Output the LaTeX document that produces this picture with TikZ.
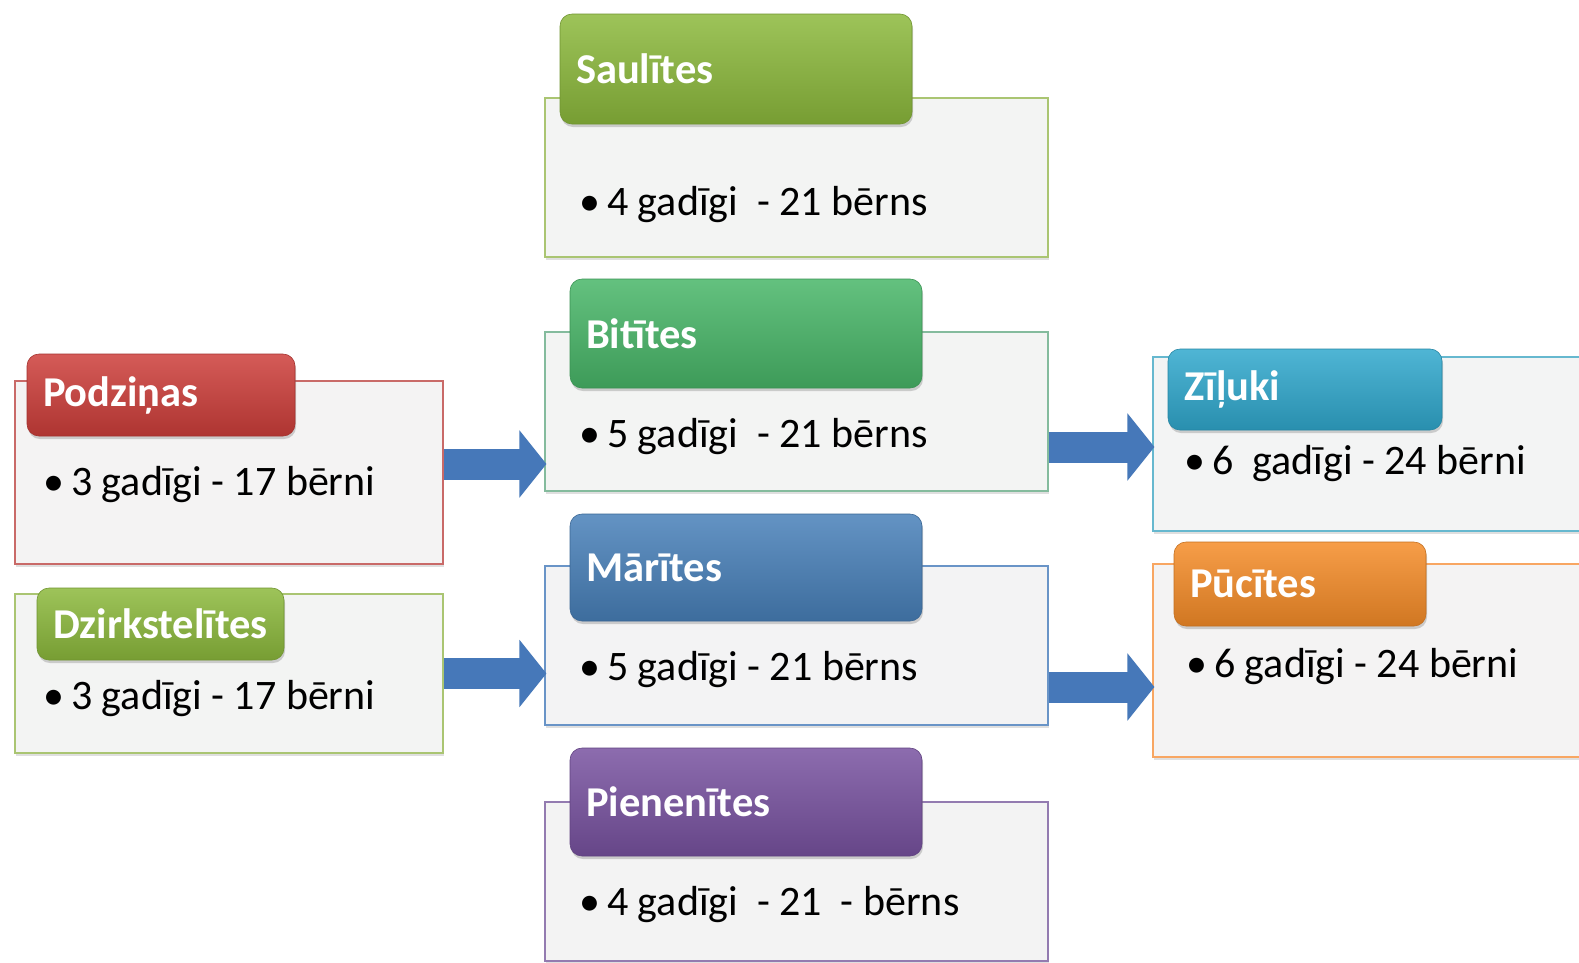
\documentclass[tikz,border=0pt]{standalone}
\usepackage{fontspec}
\setmainfont{Carlito}
\usetikzlibrary{arrows.meta,shadows}

\definecolor{podzline}{RGB}{192,80,77}
\definecolor{oliveline}{RGB}{155,187,89}
\definecolor{bitline}{RGB}{110,175,140}
\definecolor{marline}{RGB}{79,129,189}
\definecolor{pienline}{RGB}{128,100,162}
\definecolor{zilline}{RGB}{75,172,198}
\definecolor{pucline}{RGB}{247,150,70}
\definecolor{redtitle}{RGB}{205,62,58}
\definecolor{olivetitle}{RGB}{140,185,60}
\definecolor{greentitle}{RGB}{72,182,104}
\definecolor{bluetitle}{RGB}{72,128,185}
\definecolor{purpletitle}{RGB}{120,82,160}
\definecolor{cyantitle}{RGB}{48,168,205}
\definecolor{orangetitle}{RGB}{245,140,40}
\definecolor{arrowblue}{RGB}{70,120,185}

\newcommand{\pt}{•\hspace{7pt}}

\begin{document}
\begin{tikzpicture}[x=1pt,y=-1pt,
    group node/.style={rectangle,draw=#1!85!white,line width=1.1pt,fill=#1!15!black!5!white,
      drop shadow={opacity=0.25,shadow xshift=1pt,shadow yshift=-3pt}},
    title node/.style={rectangle,rounded corners=12pt,draw=#1!80!black,line width=0.6pt,
      top color=#1!85!white,bottom color=#1!85!black,text=white,align=left,
      inner xsep=16pt,font=\fontsize{42.5}{50}\selectfont\bfseries,
      drop shadow={opacity=0.35,shadow xshift=1pt,shadow yshift=-3pt}},
    count text/.style={anchor=base west,inner sep=0pt,font=\fontsize{42}{50}\selectfont},
    flow arrow/.style={line width=31pt,draw=arrowblue,
      -{Triangle[length=27pt,width=66pt]},shorten >=-2pt}]

  \clip (0,0) rectangle (1579,962);
  \fill[white] (0,0) rectangle (1579,962);

  % boxes of the groups
  \node [group node=podzline, minimum width=428pt, minimum height=183pt] (podz_body) at (229,472.5) {};
  \node [group node=oliveline, minimum width=428pt, minimum height=159pt] (dzirk_body) at (229,673.5) {};
  \node [group node=oliveline, minimum width=503pt, minimum height=159pt] (saul_body) at (796.5,177.5) {};
  \node [group node=bitline, minimum width=503pt, minimum height=159pt] (bit_body) at (796.5,411.5) {};
  \node [group node=marline, minimum width=503pt, minimum height=159pt] (mar_body) at (796.5,645.5) {};
  \node [group node=pienline, minimum width=503pt, minimum height=159pt] (pien_body) at (796.5,881.5) {};
  \node [group node=zilline, minimum width=447pt, minimum height=174pt] (zil_body) at (1376.5,444) {};
  \node [group node=pucline, minimum width=447pt, minimum height=193pt] (puc_body) at (1376.5,660.5) {};

  % titles of the groups
  \node [title node=redtitle, text width=236pt, minimum height=82pt] (podz_title) at (161,395) {Podziņas};
  \node [title node=olivetitle, text width=215pt, minimum height=72pt] (dzirk_title) at (160.5,624) {Dzirkstelītes};
  \node [title node=olivetitle, text width=320pt, minimum height=110pt] (saul_title) at (736,69) {Saulītes};
  \node [title node=greentitle, text width=320pt, minimum height=109pt] (bit_title) at (746,333.5) {Bitītes};
  \node [title node=bluetitle, text width=320pt, minimum height=107pt] (mar_title) at (746,567.5) {Mārītes};
  \node [title node=purpletitle, text width=320pt, minimum height=108pt] (pien_title) at (746,802) {Pienenītes};
  \node [title node=cyantitle, text width=242pt, minimum height=81pt] (zil_title) at (1305,389.5) {Zīļuki};
  \node [title node=orangetitle, text width=220pt, minimum height=84pt] (puc_title) at (1300,584) {Pūcītes};

  % ages and children
  \node [count text] (podz_count) at (43,495) {\pt3 gadīgi - 17 bērni};
  \node [count text] (dzirk_count) at (43,709) {\pt3 gadīgi - 17 bērni};
  \node [count text] (saul_count) at (579,215) {\pt4 gadīgi~ - 21 bērns};
  \node [count text] (bit_count) at (579,447) {\pt5 gadīgi~ - 21 bērns};
  \node [count text] (mar_count) at (579,680) {\pt5 gadīgi - 21 bērns};
  \node [count text] (pien_count) at (579,915) {\pt4 gadīgi~ - 21~ - bērns};
  \node [count text] (zil_count) at (1184,474) {\pt6~ gadīgi - 24 bērni};
  \node [count text] (puc_count) at (1186,677) {\pt6 gadīgi - 24 bērni};

  % arrows between the groups
  \coordinate (podz_out) at ([yshift=8.5pt]podz_body.east);
  \coordinate (dzirk_out) at (dzirk_body.east);
  \coordinate (bit_out) at ([yshift=-35.5pt]bit_body.east);
  \coordinate (mar_out) at ([yshift=-41.5pt]mar_body.east);
  \draw[flow arrow] (podz_out) -- (podz_out -| bit_body.west);
  \draw[flow arrow] (dzirk_out) -- (dzirk_out -| mar_body.west);
  \draw[flow arrow] (bit_out) -- (bit_out -| zil_body.west);
  \draw[flow arrow] (mar_out) -- (mar_out -| puc_body.west);

\end{tikzpicture}
\end{document}
